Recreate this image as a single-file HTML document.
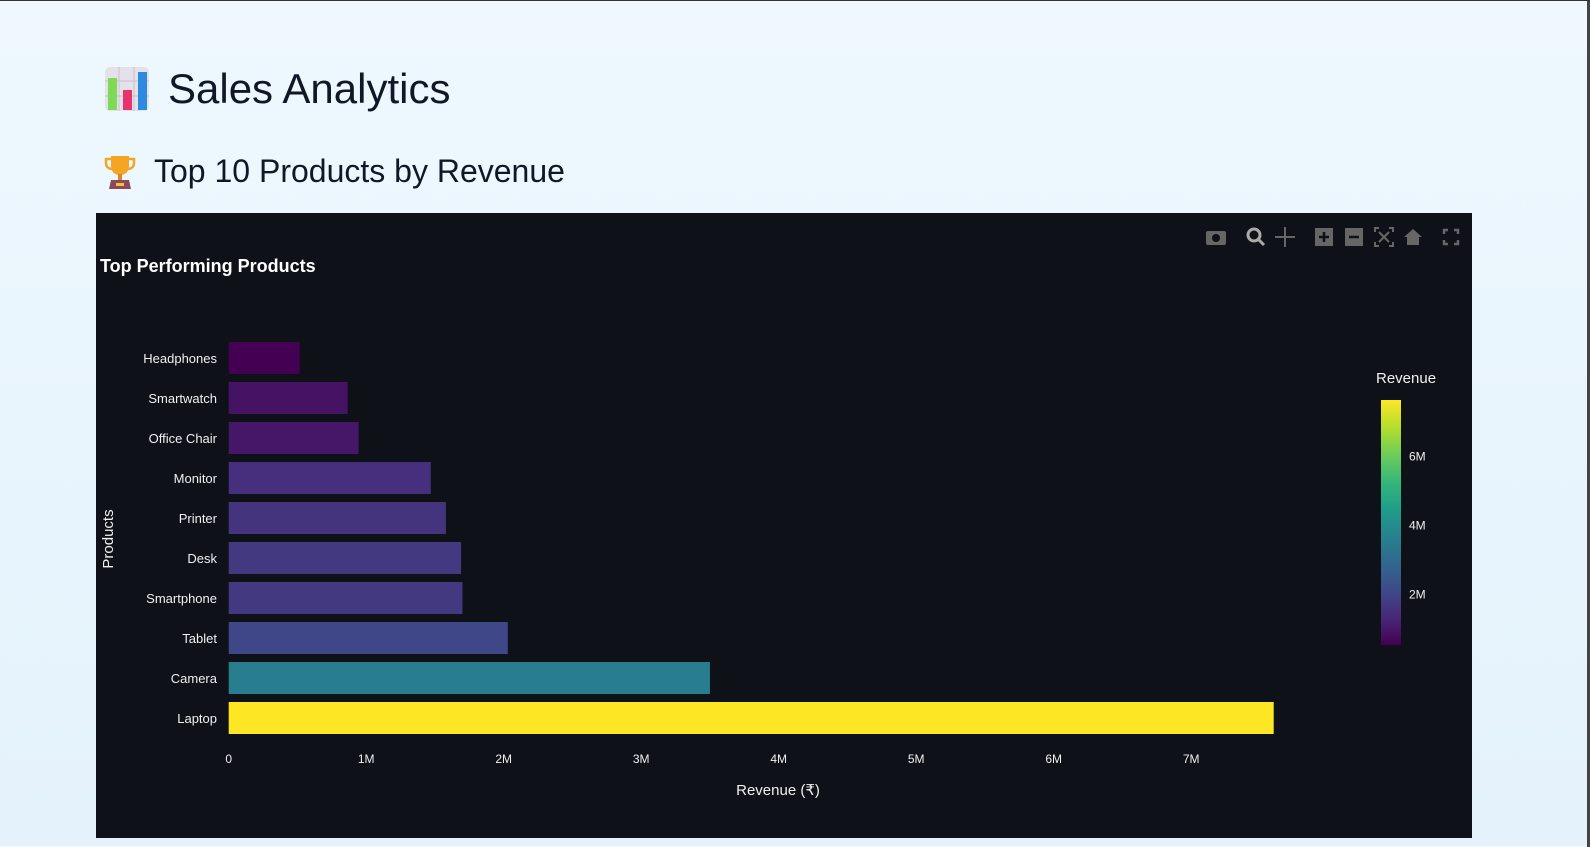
<!DOCTYPE html>
<html><head><meta charset="utf-8"><style>
html,body{margin:0;padding:0;width:1590px;height:846px;overflow:hidden}
body{background:linear-gradient(180deg,#eef8fe 0%,#e4f2fc 100%);font-family:"Liberation Sans",sans-serif;position:relative;border-top:1px solid #333}
.h1{position:absolute;left:104px;top:64px;font-size:42px;color:#101828;display:flex;align-items:center}
.h2{position:absolute;left:104px;top:152px;font-size:32px;color:#101828;display:flex;align-items:center}
.sb{position:absolute;right:0;top:0;width:3px;height:846px;background:#444}
</style></head><body>
<div class="h1"><svg width="46" height="46" viewBox="0 0 46 46"><rect x="1" y="1" width="44" height="44" rx="5" fill="#e4e1ea"/><path d="M1 15H45M1 30H45M15 1V45M30 1V45" stroke="#c6c2cc"/><rect x="4" y="12" width="9" height="32" fill="#7ed957"/><rect x="19" y="24" width="9" height="20" fill="#e8336e"/><rect x="34" y="6" width="9" height="38" fill="#2e8ae0"/></svg><span style="margin-left:18px">Sales Analytics</span></div>
<div class="h2"><svg width="32" height="36" viewBox="0 0 32 36"><path d="M7 2H25V12C25 18 21 21 16 21 11 21 7 18 7 12Z" fill="#f4a623"/><path d="M7 5H2V9C2 13 5 15 8 15M25 5H30V9C30 13 27 15 24 15" fill="none" stroke="#f4a623" stroke-width="2.5"/><rect x="14" y="20" width="4" height="6" fill="#d88a1c"/><path d="M7 26H25L27 35H5Z" fill="#8a4a5a"/><rect x="12" y="29" width="8" height="3" fill="#f4c040"/></svg><span style="margin-left:18px">Top 10 Products by Revenue</span></div>
<svg id="chart" style="position:absolute;left:96px;top:212px" width="1376" height="625"></svg>
<div class="sb"></div>
<script>
const categories=["Headphones","Smartwatch","Office Chair","Monitor","Printer","Desk","Smartphone","Tablet","Camera","Laptop"];
const revenues=[0.516,0.865,0.945,1.47,1.58,1.69,1.70,2.03,3.5,7.6];
const xTicks=[0,1,2,3,4,5,6,7];
const xTickLabels=["0","1M","2M","3M","4M","5M","6M","7M"];
const cbTicks=[2,4,6];
const cbTickLabels=["2M","4M","6M"];
const NS="http://www.w3.org/2000/svg";
const svg=document.getElementById('chart');
function el(t,a,p){const e=document.createElementNS(NS,t);for(const k in a)e.setAttribute(k,a[k]);(p||svg).appendChild(e);return e;}
const bg=el('rect',{x:0,y:0,width:1376,height:625,fill:'#0e1117'});


const X0=132.7,PX=137.5;
const xs=v=>X0+v*PX;
const rowY=i=>145+i*40;
const viridis=[[68,1,84],[72,40,120],[62,74,137],[49,104,142],[38,130,142],[31,158,137],[53,183,121],[109,205,89],[180,222,44],[253,231,37]];
const cmin=Math.min(...revenues),cmax=Math.max(...revenues);
function vcol(v){let t=(v-cmin)/(cmax-cmin);t=Math.max(0,Math.min(1,t))*9;const i=Math.min(8,Math.floor(t)),f=t-i;const a=viridis[i],b=viridis[i+1];return 'rgb('+a.map((c,k)=>Math.round(c+(b[k]-c)*f)).join(',')+')';}
const ft='font-family:"Liberation Sans",sans-serif';
const title=el('text',{x:4,y:59,fill:'#fff',style:ft+';font-size:18px;font-weight:bold'});title.textContent='Top Performing Products';


categories.forEach((c,i)=>{
 const r=el('rect',{x:xs(0),y:rowY(i)-16,width:xs(revenues[i])-xs(0),height:32,fill:vcol(revenues[i])});
 
 
 const t=el('text',{x:121,y:rowY(i)+5,fill:'#f0f0f0','text-anchor':'end',style:ft+';font-size:13px'});t.textContent=c;
 
 
});
xTicks.forEach((v,i)=>{
 const t=el('text',{x:xs(v),y:550,fill:'#f0f0f0','text-anchor':'middle',style:ft+';font-size:12px'});t.textContent=xTickLabels[i];
 
 
});
const xt=el('text',{x:682,y:582,fill:'#f0f0f0','text-anchor':'middle',style:ft+';font-size:15px'});xt.textContent='Revenue (₹)';


const yt=el('text',{x:0,y:0,fill:'#f0f0f0','text-anchor':'middle',transform:'translate(17,326) rotate(-90)',style:ft+';font-size:15px'});yt.textContent='Products';


const CBX=1285,CBW=20,CBT=187,CBB=432;
const cy=v=>CBB-(v-cmin)/(cmax-cmin)*(CBB-CBT);
const defs=el('defs',{});const g=el('linearGradient',{id:'vg',x1:0,y1:1,x2:0,y2:0},defs);
viridis.forEach((c,i)=>el('stop',{offset:i/9,'stop-color':'rgb('+c.join(',')+')'},g));
const cb=el('rect',{x:CBX,y:CBT,width:CBW,height:CBB-CBT,fill:'url(#vg)'});


const cbt=el('text',{x:1280,y:170,fill:'#f0f0f0',style:ft+';font-size:15px'});cbt.textContent='Revenue';


cbTicks.forEach((v,i)=>{
 const t=el('text',{x:1313,y:cy(v)+5,fill:'#f0f0f0',style:ft+';font-size:12px'});t.textContent=cbTickLabels[i];
 
 
});
const tb=[['camera',1120],['zoom',1160],['pan',1189],['zoom-in',1228],['zoom-out',1258],['autoscale',1288],['reset',1317],['fullscreen',1355]];
tb.forEach(([n,x])=>{
 const gg=el('g',{transform:'translate('+x+',24)',fill:'#666',stroke:'#666'});
 
 
 if(n==='camera'){el('rect',{x:-10,y:-6,width:20,height:14,rx:2,stroke:'none'},gg);el('circle',{cx:0,cy:1,r:4,fill:'#0e1117',stroke:'none'},gg);}
 else if(n==='zoom'){el('circle',{cx:-2,cy:-2,r:6,fill:'none','stroke-width':3,stroke:'#aaa'},gg);el('line',{x1:2,y1:2,x2:8,y2:8,'stroke-width':3,stroke:'#aaa'},gg);}
 else if(n==='pan'){el('path',{d:'M0-10V10M-10 0H10','stroke-width':2,fill:'none'},gg);}
 else if(n==='zoom-in'||n==='zoom-out'){el('rect',{x:-9,y:-9,width:18,height:18,stroke:'none'},gg);el('path',{d:n==='zoom-in'?'M-5 0H5M0-5V5':'M-5 0H5',stroke:'#0e1117','stroke-width':2.5},gg);}
 else if(n==='autoscale'){el('path',{d:'M-9-5V-9H-5M5-9H9V-5M9 5V9H5M-5 9H-9V5M-5-5L5 5M5-5L-5 5',fill:'none','stroke-width':2},gg);}
 else if(n==='reset'){el('path',{d:'M-9 0L0-8 9 0H6V8H-6V0Z',stroke:'none'},gg);}
 else {el('path',{d:'M-7-3V-7H-3M3-7H7V-3M7 3V7H3M-3 7H-7V3',fill:'none','stroke-width':2.5},gg);}
});
</script>
</body></html>
